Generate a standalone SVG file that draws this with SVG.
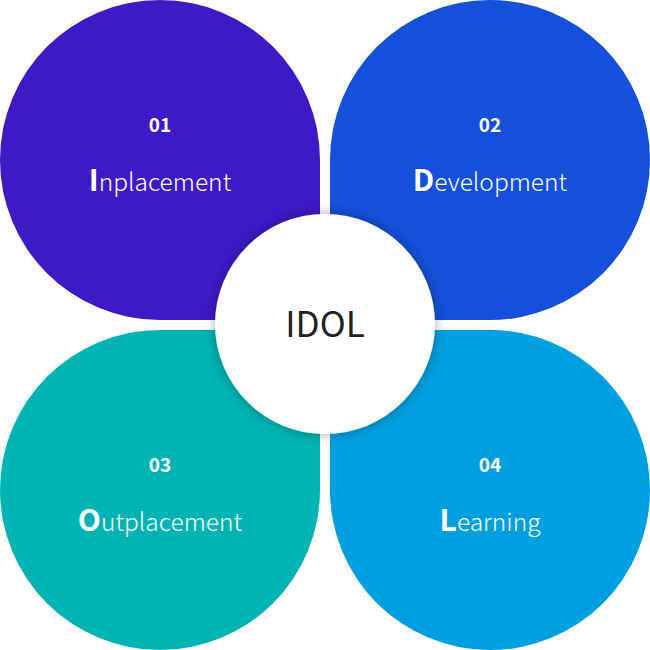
<svg xmlns="http://www.w3.org/2000/svg" width="650" height="650" viewBox="0 0 650 650">
<style>
.num{font-family:"Noto Sans CJK KR","Noto Sans",sans-serif;font-weight:700;font-size:19px;fill:#fff;text-anchor:middle}
.lbl{font-family:"Noto Sans CJK KR","Noto Sans",sans-serif;font-weight:300;font-size:24.5px;fill:#fff;text-anchor:middle}
.cap{font-weight:700;font-size:30px}
.core{font-family:"Noto Sans CJK KR","Noto Sans",sans-serif;font-weight:400;font-size:35px;fill:#222;text-anchor:middle}
</style>
<defs>
<filter id="sh" x="-30%" y="-30%" width="160%" height="160%">
<feDropShadow dx="0" dy="0" stdDeviation="6" flood-color="#000" flood-opacity="0.35"/>
</filter>
</defs>
<rect width="650" height="650" fill="#fff"/>
<g id="node-inplacement">
<path d="M0,160 A160,160 0 0 1 320,160 L320,320 L160,320 A160,160 0 0 1 0,160 Z" fill="#3c1ac6"/>
<text class="num" x="160" y="132">01</text>
<text class="lbl" x="160" y="191"><tspan class="cap">I</tspan>nplacement</text>
</g>
<g id="node-development">
<path d="M330,160 A160,160 0 0 1 650,160 A160,160 0 0 1 490,320 L330,320 Z" fill="#1450d9"/>
<text class="num" x="490" y="132">02</text>
<text class="lbl" x="490" y="191"><tspan class="cap">D</tspan>evelopment</text>
</g>
<g id="node-outplacement">
<path d="M0,490 A160,160 0 0 1 160,330 L320,330 L320,490 A160,160 0 0 1 0,490 Z" fill="#00b4b4"/>
<text class="num" x="160" y="472">03</text>
<text class="lbl" x="160" y="531"><tspan class="cap">O</tspan>utplacement</text>
</g>
<g id="node-learning">
<path d="M330,330 L490,330 A160,160 0 0 1 490,650 A160,160 0 0 1 330,490 Z" fill="#00a0e0"/>
<text class="num" x="490" y="472">04</text>
<text class="lbl" x="490" y="531"><tspan class="cap">L</tspan>earning</text>
</g>
<g id="connectors"></g>
<g id="node-idol">
<circle cx="325" cy="324" r="110" fill="#fff" filter="url(#sh)"/>
<text class="core" x="325" y="337">IDOL</text>
</g>
</svg>
